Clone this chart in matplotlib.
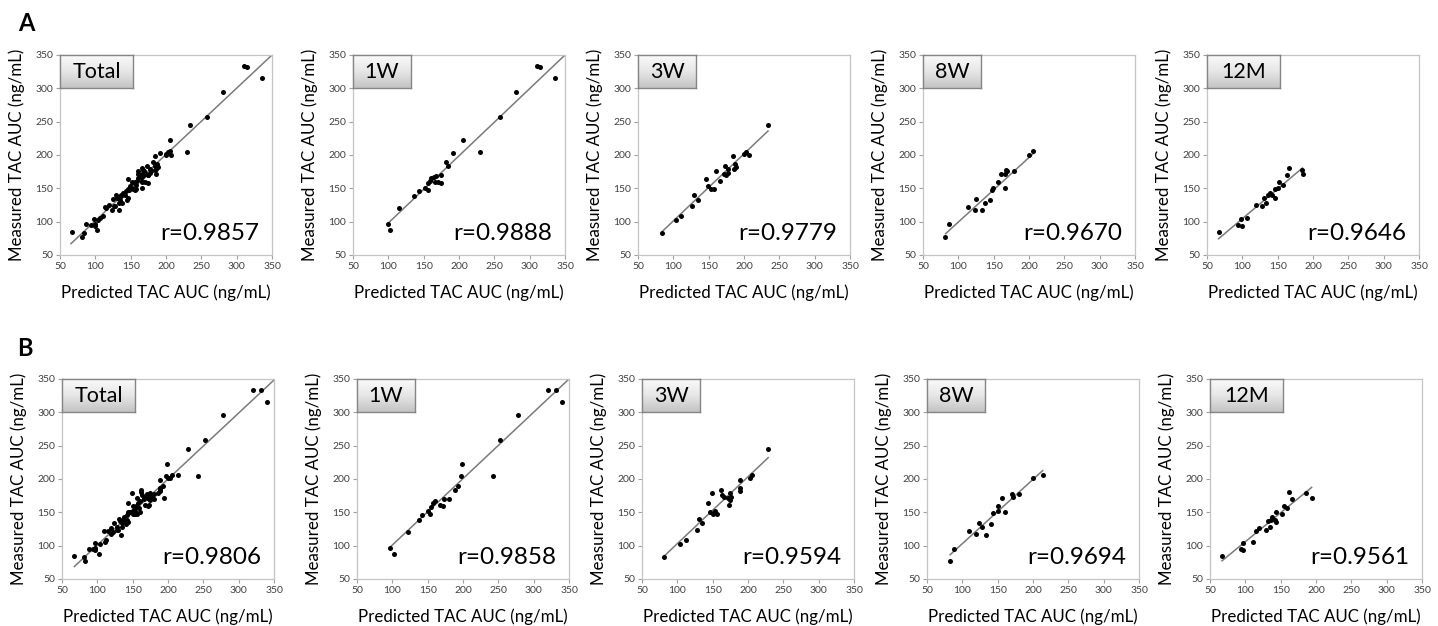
import numpy as np
import matplotlib
matplotlib.use('Agg')
import matplotlib.pyplot as plt
from matplotlib.colors import LinearSegmentedColormap

# ---------------- data ----------------
periods = ['1W', '3W', '8W', '12M']

# Row A
a_1w_pred = [100, 103, 115, 136, 144, 152, 156, 156, 158.6, 160.5, 164, 166, 168, 170, 174, 174,
             182, 184, 192, 205, 230, 258, 280.5, 311, 315, 336]
a_1w_meas = [97, 88, 120, 138, 146, 151, 147, 158.5, 161, 165, 167, 159.5, 169, 159.5, 158.5, 170,
             189, 184, 203, 223, 204.6, 257, 295, 333, 332, 315]
a_3w_pred = [84, 104, 110.5, 127, 129.7, 135, 146, 149, 152.7, 157, 159.7, 165.8, 172, 173, 175,
             177.5, 178, 184.5, 185.5, 187.4, 188, 200, 203, 207, 234]
a_3w_meas = [83, 103, 108.8, 123, 139.7, 133, 164, 153, 149.7, 148.7, 176.6, 160.6, 172, 183, 169.6,
             179, 173, 199, 179.6, 187, 181.6, 202, 205, 200, 245]
a_8w_pred = [81.8, 87, 113, 123, 124.8, 133, 138, 145, 147.7, 149.5, 155.6, 161, 165.4, 165.9,
             167.3, 168.7, 179, 199.5, 205.6]
a_8w_meas = [77.4, 95.8, 122, 117, 133.7, 117, 128.7, 132.7, 147, 151, 159.6, 172, 150.6, 172,
             177, 176, 176.6, 200.5, 206]
a_12m_pred = [66.4, 94.5, 99.2, 98.75, 107.2, 119.8, 127.8, 131, 133.9, 136, 139, 141.9, 146.6,
              146.6, 152.2, 157, 150.3, 163, 166, 185, 186]
a_12m_meas = [84.9, 95.3, 93.3, 104.3, 105.8, 125.7, 123.2, 136, 128.7, 139.7, 142.7, 140.7, 135,
              149, 160, 155, 150.6, 170.6, 181, 178, 172]

# Row B
b_1w_pred = [96.5, 103, 122, 138, 141.6, 150, 153.5, 155, 157, 160.6, 167, 172, 173, 179.6, 188.6,
             193, 197, 199, 243, 251.7, 277.8, 319.6, 331.4, 339.5]
b_1w_meas = [96.5, 88, 120, 138, 146.5, 151.5, 148, 157.6, 164, 166.7, 160.6, 159, 169.7, 169.7,
             184, 189, 204, 222.7, 205, 259, 296, 333, 334, 315.6]
b_3w_pred = [80.7, 104, 112, 128, 130.8, 135, 144, 146.8, 149.7, 151, 153.5, 155.8, 162, 163.4,
             166, 171, 172.8, 174.7, 175.2, 176.6, 189, 189, 189, 203.5, 205.4, 228.6]
b_3w_meas = [82.7, 103, 108.4, 123.5, 139.6, 133.5, 163.7, 150, 179.3, 148, 152.7, 148, 184, 175.8,
             173, 171.8, 160.7, 179.3, 168.8, 173.3, 198.5, 187, 181.4, 201, 205.5, 245]
b_8w_pred = [82.75, 88, 108.9, 119.8, 124, 127.4, 133.5, 140.7, 143.5, 150, 151, 155.8, 161, 170.5,
             171, 180, 200.5, 213.7]
b_8w_meas = [77.3, 95.5, 121.7, 117.7, 133.8, 128.3, 116.7, 132.8, 148.5, 151.5, 159.6, 172, 150.5,
             177.3, 173.7, 176.8, 201, 206.6]
b_12m_pred = [67, 93.2, 97, 96, 110.3, 115, 119.8, 129.7, 131.6, 135, 136, 138.3, 141.6, 143.5,
              143.5, 151.6, 155, 159, 162, 166.3, 185.3, 193.8]
b_12m_meas = [84.3, 95, 93.4, 104.5, 105.5, 122.7, 126.8, 123.2, 136.4, 128.3, 138.4, 143, 139,
              150.5, 134.8, 148, 159.6, 156.6, 180.8, 170.7, 178.8, 171.7]

# regression line end points [x0, y0, x1, y1]
a_lines = {'Total': [65.5, 67, 350, 350], '1W': [100, 98, 350, 350], '3W': [84, 85, 234, 236],
           '8W': [82, 82, 206, 202], '12M': [66.4, 74.4, 185, 180.5]}
b_lines = {'Total': [67.5, 68.7, 350, 348.5], '1W': [96.5, 97.5, 350, 350], '3W': [80.7, 83.7, 228.6, 232],
           '8W': [82.75, 86.4, 213.7, 212.6], '12M': [67, 77.3, 193.8, 187.4]}

a_r = {'Total': 'r=0.9857', '1W': 'r=0.9888', '3W': 'r=0.9779', '8W': 'r=0.9670', '12M': 'r=0.9646'}
b_r = {'Total': 'r=0.9806', '1W': 'r=0.9858', '3W': 'r=0.9594', '8W': 'r=0.9694', '12M': 'r=0.9561'}

panel_names = ['Total', '1W', '3W', '8W', '12M']
xlabel = 'Predicted TAC AUC (ng/mL)'
ylabel = 'Measured TAC AUC (ng/mL)'
ticks = [50, 100, 150, 200, 250, 300, 350]

a_sets = {'1W': (a_1w_pred, a_1w_meas), '3W': (a_3w_pred, a_3w_meas),
          '8W': (a_8w_pred, a_8w_meas), '12M': (a_12m_pred, a_12m_meas)}
b_sets = {'1W': (b_1w_pred, b_1w_meas), '3W': (b_3w_pred, b_3w_meas),
          '8W': (b_8w_pred, b_8w_meas), '12M': (b_12m_pred, b_12m_meas)}
for sets in (a_sets, b_sets):
    sets['Total'] = (sum((list(sets[p][0]) for p in periods), []),
                     sum((list(sets[p][1]) for p in periods), []))

# ---------------- figure ----------------
W, H = 1438, 626
plt.rcParams['font.family'] = ['Lato', 'DejaVu Sans']
fig = plt.figure(figsize=(W / 100, H / 100), dpi=100)


def px_rect(left, top, w, h):
    return [left / W, 1 - (top + h) / H, w / W, h / H]


grad_cmap = LinearSegmentedColormap.from_list('g', ['#fafafa', '#e6e6e6', '#c4c4c4'])

row_tops = [55, 379]
row_lefts = [[60, 353, 638, 923, 1207], [62, 357, 642, 927, 1210]]
AX_W, AX_H = 212, 200
box_w = {'Total': 73, '1W': 58, '3W': 58, '8W': 58, '12M': 73}

for ri, (sets, lines, rtxt) in enumerate([(a_sets, a_lines, a_r), (b_sets, b_lines, b_r)]):
    for ci, name in enumerate(panel_names):
        ax = fig.add_axes(px_rect(row_lefts[ri][ci], row_tops[ri], AX_W, AX_H))
        xs, ys = sets[name]
        ln = lines[name]
        ax.plot([ln[0], ln[2]], [ln[1], ln[3]], color='#7a7a7a', lw=1.1, zorder=2)
        ax.scatter(xs, ys, s=13, color='black', zorder=3, linewidths=0)
        ax.set_xlim(50, 350)
        ax.set_ylim(50, 350)
        ax.set_xticks(ticks)
        ax.set_yticks(ticks)
        ax.tick_params(which='major', direction='out', length=3, width=0.8, color='#a0a0a0',
                       labelsize=7.5, labelcolor='#404040', pad=2)
        for sp in ax.spines.values():
            sp.set_color('#c4c4c4')
            sp.set_linewidth(0.9)
        ax.set_xlabel(xlabel, fontsize=12.2, labelpad=10)
        ax.set_ylabel(ylabel, fontsize=12.2, labelpad=7)
        ax.text(0.94, 0.055, rtxt[name], transform=ax.transAxes, ha='right', va='bottom',
                fontsize=17.5)
        # gradient label box
        bw = box_w[name] / AX_W
        bh = 33 / AX_H
        bax = ax.inset_axes([0, 1 - bh, bw, bh])
        bax.imshow(np.linspace(0, 1, 64).reshape(-1, 1), cmap=grad_cmap, aspect='auto',
                   extent=[0, 1, 0, 1], origin='upper')
        bax.set_xlim(0, 1)
        bax.set_ylim(0, 1)
        bax.set_xticks([])
        bax.set_yticks([])
        for sp in bax.spines.values():
            sp.set_color('#858585')
            sp.set_linewidth(1.0)
        bax.text(0.5, 0.48, name, ha='center', va='center', fontsize=15.5, transform=bax.transAxes)

fig.text(18 / W, 1 - 12 / H, 'A', fontsize=17, fontweight='bold', ha='left', va='top')
fig.text(17 / W, 1 - 337 / H, 'B', fontsize=17, fontweight='bold', ha='left', va='top')

fig.savefig('out.png', dpi=100)
